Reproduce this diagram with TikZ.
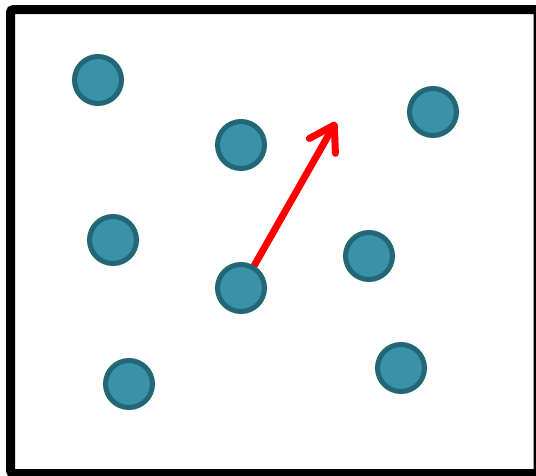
\documentclass[tikz,border=0pt]{standalone}
\usetikzlibrary{arrows.meta}
\definecolor{tealfill}{RGB}{58,146,168}
\definecolor{tealline}{RGB}{35,102,117}
\tikzset{
  dot/.style={circle, draw=tealline, fill=tealfill, line width=5pt, minimum size=47pt, inner sep=0pt},
  redarrow/.style={draw=red, line width=7pt, -{Straight Barb[length=24pt,width=30pt,round]}},
}
\begin{document}
\begin{tikzpicture}[x=1pt,y=-1pt]
\useasboundingbox (0,0) rectangle (536,475);
\fill[white] (0,0) rectangle (536,475);
\draw[line width=9pt, rounded corners=3pt] (10.5,9.5) rectangle (538,473.5);
\coordinate (tip) at (336,122);
\draw[redarrow] (254,266) -- (tip);
\node[dot] (c1) at (98,80) {};
\node[dot] (c2) at (241,145) {};
\node[dot] (c3) at (433,112) {};
\node[dot] (c4) at (113,240) {};
\node[dot] (c5) at (241,288) {};
\node[dot] (c6) at (369,256) {};
\node[dot] (c7) at (129,384) {};
\node[dot] (c8) at (401,368) {};
\end{tikzpicture}
\end{document}
